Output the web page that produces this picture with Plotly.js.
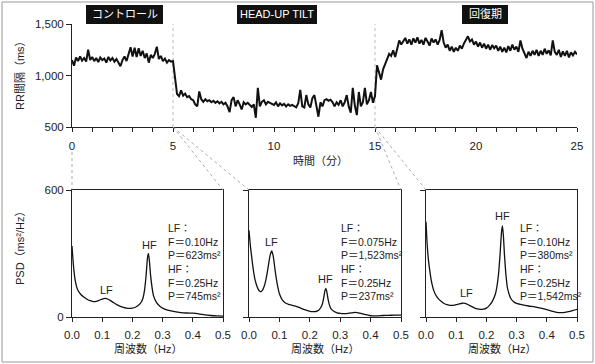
<!DOCTYPE html>
<html>
<head>
<meta charset="utf-8">
<script src="https://cdn.plot.ly/plotly-3.0.1.min.js"></script>
<style>html,body{margin:0;padding:0;background:#fff;}#chart{width:595px;height:364px;}</style>
</head>
<body>
<div id="chart"></div>
<script>
// ---- RR interval time series (ms), sampled every 0.1 min from 0 to 25 min ----
var rrStep = 0.1;
var rrValues = [
  1150,1095,1175,1140,1185,1145,1170,1135,1250,1150,
  1180,1140,1170,1130,1175,1150,1165,1125,1180,1145,
  1170,1135,1160,1120,1090,1150,1185,1140,1200,1275,
  1185,1270,1180,1265,1190,1240,1170,1215,1125,1200,
  1170,1210,1280,1160,1190,1140,1165,1125,1150,1135,
  1140,980,820,800,855,805,825,790,800,770,
  760,720,700,845,770,745,770,750,760,740,
  755,735,750,730,745,720,735,700,645,760,
  790,700,760,720,670,740,720,735,715,695,
  720,590,880,700,745,760,720,745,735,725,
  715,740,700,730,710,725,700,720,705,715,
  700,690,730,860,700,690,810,720,690,780,
  810,720,600,740,700,760,770,755,765,740,
  700,740,715,760,700,740,810,700,640,880,
  710,616,840,700,740,880,720,760,840,735,
  800,1100,1030,960,1060,1120,1160,1210,1190,1245,
  1180,1260,1340,1300,1330,1365,1310,1350,1300,1360,
  1320,1370,1310,1345,1300,1365,1330,1290,1360,1320,
  1350,1300,1345,1440,1320,1270,1300,1240,1280,1230,
  1270,1240,1290,1260,1310,1340,1380,1330,1350,1300,
  1330,1280,1320,1270,1310,1260,1300,1250,1295,1265,
  1290,1240,1280,1230,1270,1225,1285,1240,1300,1250,
  1280,1230,1340,1260,1210,1170,1230,1190,1240,1200,
  1250,1190,1240,1200,1260,1210,1245,1195,1340,1230,
  1200,1250,1180,1235,1190,1240,1175,1225,1195,1230,
  1205
];
var rrTimes = rrValues.map(function(v, i){ return +(i*rrStep).toFixed(2); });

// ---- Phase labels ----
var phaseLabels = ["コントロール", "HEAD-UP TILT", "回復期"];
var phaseBounds = [5, 15];

// ---- PSD spectra ----
var psd1Freq = [0.000,0.005,0.010,0.015,0.020,0.030,0.040,0.050,0.060,0.070,0.080,0.090,0.100,0.110,0.120,0.130,0.140,0.150,0.160,0.170,0.180,0.190,0.200,0.210,0.220,0.230,0.235,0.240,0.245,0.250,0.253,0.256,0.260,0.265,0.270,0.280,0.290,0.300,0.320,0.340,0.360,0.380,0.400,0.420,0.440,0.460,0.480,0.500];
var psd1Power = [335,240,178,145,125,105,93,84,77,73,74,79,85,88,84,75,66,57,50,45,42,41,42,46,55,72,90,125,190,280,300,270,200,140,100,68,52,42,31,25,21,19,18,15,10,7,5,4];

var psd2Freq = [0.000,0.005,0.010,0.015,0.020,0.025,0.030,0.035,0.040,0.045,0.050,0.055,0.060,0.065,0.070,0.075,0.080,0.085,0.090,0.095,0.100,0.110,0.120,0.130,0.140,0.150,0.160,0.170,0.180,0.190,0.200,0.210,0.220,0.230,0.240,0.245,0.250,0.253,0.256,0.260,0.265,0.270,0.280,0.290,0.300,0.320,0.340,0.350,0.360,0.380,0.400,0.420,0.440,0.460,0.480,0.500];
var psd2Power = [410,330,270,215,175,150,132,122,120,128,145,172,210,255,295,312,285,230,180,140,110,80,66,60,56,52,48,42,36,31,27,25,26,33,55,85,125,135,120,85,55,38,26,20,17,16,20,22,20,12,6,5,7,8,9,9];

var psd3Freq = [0.000,0.004,0.008,0.012,0.016,0.020,0.025,0.030,0.040,0.050,0.060,0.070,0.080,0.090,0.100,0.110,0.120,0.130,0.140,0.150,0.160,0.170,0.180,0.190,0.200,0.210,0.220,0.230,0.235,0.240,0.245,0.250,0.253,0.256,0.260,0.265,0.270,0.280,0.290,0.300,0.320,0.340,0.360,0.380,0.400,0.420,0.440,0.460,0.480,0.500];
var psd3Power = [450,340,270,225,185,155,128,110,88,74,64,58,55,55,58,62,65,64,58,50,43,38,36,37,42,55,75,110,145,200,290,400,430,390,290,195,135,90,72,64,57,52,48,42,35,27,21,22,28,36];

var panelInfo = [
  "LF：<br>F＝0.10Hz<br>P＝623ms²<br>HF：<br>F＝0.25Hz<br>P＝745ms²",
  "LF：<br>F＝0.075Hz<br>P＝1,523ms²<br>HF：<br>F＝0.25Hz<br>P＝237ms²",
  "LF：<br>F＝0.10Hz<br>P＝380ms²<br>HF：<br>F＝0.25Hz<br>P＝1,542ms²"
];
var peakLabels = ["LF", "HF"];

// ---- layout helpers (pixel -> paper) ----
var W = 595, H = 364;
function px(x){ return x / W; }
function py(y){ return 1 - y / H; }

var FONT = "Liberation Sans, Arial, Helvetica, sans-serif";
var JFONT = "Liberation Sans, Noto Sans CJK JP, sans-serif";

var topBox = {x0: 72, x1: 577, y0: 24, y1: 127};
var panels = [
  {x0: 72, x1: 223},
  {x0: 249, x1: 401},
  {x0: 426, x1: 577}
];
var pTop = 190, pBot = 317;

var traces = [
  {x: rrTimes, y: rrValues, type: 'scatter', mode: 'lines', xaxis: 'x', yaxis: 'y',
   line: {color: '#111', width: 2}, hoverinfo: 'skip'},
  {x: psd1Freq, y: psd1Power, type: 'scatter', mode: 'lines', xaxis: 'x2', yaxis: 'y2',
   line: {color: '#111', width: 1.3, shape: 'spline', smoothing: 0.6}},
  {x: psd2Freq, y: psd2Power, type: 'scatter', mode: 'lines', xaxis: 'x3', yaxis: 'y3',
   line: {color: '#111', width: 1.3, shape: 'spline', smoothing: 0.6}},
  {x: psd3Freq, y: psd3Power, type: 'scatter', mode: 'lines', xaxis: 'x4', yaxis: 'y4',
   line: {color: '#111', width: 1.3, shape: 'spline', smoothing: 0.6}}
];

var tickFont = {family: FONT, size: 11.5, color: '#222'};

function panelX(p, anchor){
  return {domain: [px(p.x0), px(p.x1)], range: [0, 0.5], anchor: anchor,
    dtick: 0.1, tick0: 0, tickformat: '.1f', ticks: 'outside', ticklen: 4, tickcolor: '#222',
    ticklabelstandoff: 3,
    showline: true, linecolor: '#222', linewidth: 1, mirror: true,
    showgrid: false, zeroline: false, tickfont: tickFont, fixedrange: true};
}
function panelY(anchor, showLabels){
  return {domain: [py(pBot), py(pTop)], range: [0, 600], anchor: anchor,
    tickvals: [0, 600], ticks: 'outside', ticklen: 5, tickcolor: '#222',
    showticklabels: showLabels,
    showline: true, linecolor: '#222', linewidth: 1, mirror: true,
    showgrid: false, zeroline: false, tickfont: tickFont, fixedrange: true};
}

var layout = {
  width: W, height: H,
  margin: {l: 0, r: 0, t: 0, b: 0},
  paper_bgcolor: '#fff', plot_bgcolor: '#fff',
  showlegend: false,
  font: {family: FONT, color: '#222'},
  xaxis: {domain: [px(topBox.x0), px(topBox.x1)], range: [0, 25], anchor: 'y',
    dtick: 5, tick0: 0, ticks: 'outside', ticklen: 4, tickcolor: '#222',
    ticklabelstandoff: 4,
    minor: {dtick: 1, ticks: 'outside', ticklen: 4, tickcolor: '#222', showgrid: false},
    showline: true, linecolor: '#222', linewidth: 1,
    showgrid: false, zeroline: false, tickfont: tickFont, fixedrange: true},
  yaxis: {domain: [py(topBox.y1), py(topBox.y0)], range: [500, 1500], anchor: 'x',
    tickvals: [500, 1000, 1500], ticktext: ['500', '1,000', '1,500'],
    ticks: 'outside', ticklen: 5, tickcolor: '#222',
    showline: true, linecolor: '#222', linewidth: 1,
    showgrid: false, zeroline: false, tickfont: tickFont, fixedrange: true},
  xaxis2: panelX(panels[0], 'y2'), yaxis2: panelY('x2', true),
  xaxis3: panelX(panels[1], 'y3'), yaxis3: panelY('x3', false),
  xaxis4: panelX(panels[2], 'y4'), yaxis4: panelY('x4', false),
  shapes: [],
  annotations: []
};

// figure frame
layout.shapes.push({type: 'rect', xref: 'paper', yref: 'paper',
  x0: px(2), x1: px(593), y0: py(362), y1: py(2), line: {color: '#999', width: 1}});

// phase boundary dotted lines in top chart
phaseBounds.forEach(function(t){
  layout.shapes.push({type: 'line', xref: 'x', yref: 'y', x0: t, x1: t, y0: 500, y1: 1500,
    line: {color: '#aaa', width: 0.8, dash: 'dot'}, layer: 'below'});
});

// connector lines from top chart to spectra
function tx(t){ return topBox.x0 + t / 25 * (topBox.x1 - topBox.x0); }
var connectors = [
  [tx(0), 152, panels[0].x0, pTop],
  [tx(5), topBox.y1, panels[0].x1, pTop],
  [tx(5), topBox.y1, panels[1].x0, pTop],
  [tx(15), topBox.y1, panels[1].x1, pTop],
  [tx(15), topBox.y1, panels[2].x0, pTop]
];
connectors.forEach(function(c){
  layout.shapes.push({type: 'line', xref: 'paper', yref: 'paper',
    x0: px(c[0]), y0: py(c[1]), x1: px(c[2]), y1: py(c[3]),
    line: {color: '#999', width: 0.8, dash: 'dot'}});
});

// phase label boxes
var boxes = [[86, 163], [237, 317], [462, 508]];
boxes.forEach(function(b, i){
  layout.shapes.push({type: 'rect', xref: 'paper', yref: 'paper',
    x0: px(b[0]), x1: px(b[1]), y0: py(24), y1: py(5),
    fillcolor: '#111', line: {width: 0}});
  layout.annotations.push({xref: 'paper', yref: 'paper', x: px((b[0] + b[1]) / 2), y: py(14.5),
    text: phaseLabels[i], showarrow: false, xanchor: 'center', yanchor: 'middle',
    font: {family: JFONT, size: 11, color: '#fff'}});
});

// axis titles
function title(x, y, text, angle){
  layout.annotations.push({xref: 'paper', yref: 'paper', x: px(x), y: py(y),
    text: text, showarrow: false, textangle: angle || 0, xanchor: 'center', yanchor: 'middle',
    font: {family: JFONT, size: 11, color: '#222'}});
}
title(320, 161, '時間（分）');
title(20, 73, 'RR間隔（ms）', -90);
title(20, 246, 'PSD（ms²/Hz）', -90);
panels.forEach(function(p){ title((p.x0 + p.x1) / 2, 349, '周波数（Hz）'); });

// info text in panels
var infoX = [166, 339, 518];
panelInfo.forEach(function(txt, i){
  layout.annotations.push({xref: 'paper', yref: 'paper', x: px(infoX[i]), y: py(220),
    text: txt, showarrow: false, xanchor: 'left', yanchor: 'top', align: 'left',
    font: {family: JFONT, size: 10.5, color: '#222'}});
});

// LF / HF peak labels (positioned in data coordinates)
var peakPos = [
  [['x2', 'y2', 0.115, 128], ['x2', 'y2', 0.257, 338]],
  [['x3', 'y3', 0.075, 355], ['x3', 'y3', 0.253, 180]],
  [['x4', 'y4', 0.135, 115], ['x4', 'y4', 0.253, 475]]
];
peakPos.forEach(function(pp){
  pp.forEach(function(q, j){
    layout.annotations.push({xref: q[0], yref: q[1], x: q[2], y: q[3], text: peakLabels[j],
      showarrow: false, xanchor: 'center', yanchor: 'middle',
      font: {family: FONT, size: 11, color: '#222'}});
  });
});

Plotly.newPlot('chart', traces, layout, {staticPlot: true, displayModeBar: false});
</script>
</body>
</html>
